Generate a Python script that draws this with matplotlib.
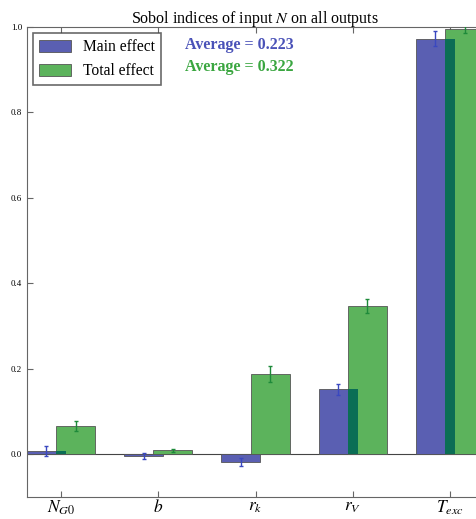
import numpy as np
import matplotlib
matplotlib.use("Agg")
import matplotlib.pyplot as plt

outputs = [r'$N_{G0}$', r'$b$', r'$r_k$', r'$r_V$', r'$T_{exc}$']
main_effect = [0.008, -0.005, -0.018, 0.152, 0.973]
main_err = [0.011, 0.007, 0.009, 0.013, 0.018]
total_effect = [0.067, 0.009, 0.187, 0.347, 0.995]
total_err = [0.012, 0.003, 0.019, 0.016, 0.010]
main_avg = 0.223
total_avg = 0.322

plt.rcParams['font.family'] = ['Liberation Serif', 'DejaVu Serif']
plt.rcParams['mathtext.fontset'] = 'stix'

blue = '#5a5fb2'
green = '#5cb35c'
dark = '#0b6e55'

fig = plt.figure(figsize=(4.76, 5.19), dpi=100)
# axes runs a bit past the right edge, like the cropped original
ax = fig.add_axes([27 / 476, 22 / 519, 457 / 476, 470 / 519])

x = np.arange(len(outputs))
w = 0.4
off = 0.15
m = np.array(main_effect)
t = np.array(total_effect)

ax.bar(x - off, m, w, color=blue, edgecolor='#555555', linewidth=0.6,
       label='Main effect', zorder=2)
ax.bar(x + off, t, w, color=green, edgecolor='#555555', linewidth=0.6,
       label='Total effect', zorder=2)
# where the two bars overlap the original shows a dark teal
overlap = np.where(np.sign(m) == np.sign(t), np.sign(m) * np.minimum(abs(m), abs(t)), 0)
ax.bar(x, overlap, 2 * w - 2 * off - w, color=dark, linewidth=0, zorder=3)

ax.errorbar(x - off, m, yerr=main_err, fmt='none', ecolor='#3a48c0',
            elinewidth=1, capsize=1.5, zorder=4)
ax.errorbar(x + off, t, yerr=total_err, fmt='none', ecolor='#1e8a3a',
            elinewidth=1, capsize=1.5, zorder=4)

ax.axhline(0, color='#444444', linewidth=0.8, zorder=1)

ax.set_xlim(-0.35, 4.35)
ax.set_ylim(-0.1, 1.0)
ax.set_xticks(x)
ax.set_xticklabels(outputs, fontsize=12.5)
ax.set_yticks([0.0, 0.2, 0.4, 0.6, 0.8, 1.0])
ax.set_yticklabels(['0.0', '0.2', '0.4', '0.6', '0.8', '1.0'], fontsize=6.5)
ax.tick_params(direction='in', top=True, right=True, length=4, color='#666666')
ax.tick_params(axis='x', pad=1.5)
for s in ax.spines.values():
    s.set_color('#666666')

ax.set_title(r'Sobol indices of input $N$ on all outputs', fontsize=11.5, pad=3)

leg = ax.legend(loc='upper left', fontsize=11.2, frameon=True, fancybox=False,
                borderaxespad=0.4, handlelength=2.0, handleheight=0.8,
                handletextpad=0.8, labelspacing=0.5)
leg.get_frame().set_edgecolor('#444444')
leg.get_frame().set_linewidth(1.2)

ax.text(0.345, 0.962, 'Average = %.3f' % main_avg, transform=ax.transAxes,
        color='#4a52b8', fontsize=11.5, fontweight='bold', va='center')
ax.text(0.345, 0.914, 'Average = %.3f' % total_avg, transform=ax.transAxes,
        color='#3aa640', fontsize=11.5, fontweight='bold', va='center')

fig.savefig('out.png', dpi=100)
